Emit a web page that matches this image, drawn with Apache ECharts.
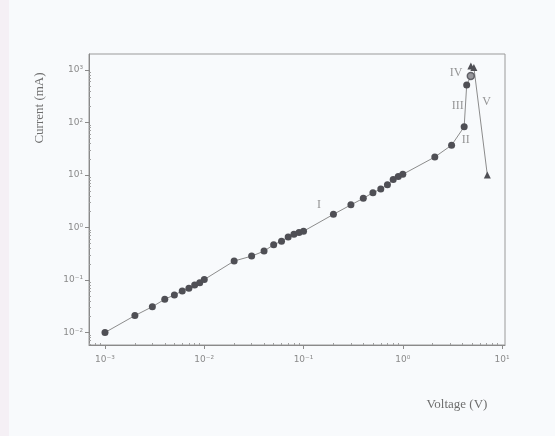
<!DOCTYPE html>
<html>
<head>
<meta charset="utf-8">
<style>
  html, body { margin: 0; padding: 0; background: #f8fafc; }
  #chart { width: 555px; height: 436px; }
</style>
<script src="https://cdn.jsdelivr.net/npm/echarts@6/dist/echarts.min.js"></script>
</head>
<body>
<div id="chart"></div>
<script>
// ---- data ----
const voltage = [0.001, 0.002, 0.003, 0.004, 0.005, 0.006, 0.007, 0.008, 0.009, 0.01,
                 0.02, 0.03, 0.04, 0.05, 0.06, 0.07, 0.08, 0.09, 0.1,
                 0.2, 0.3, 0.4, 0.5, 0.6, 0.7, 0.8, 0.9, 1.0,
                 2.1, 3.1, 4.15, 4.4];
const current = [0.01, 0.021, 0.031, 0.043, 0.052, 0.062, 0.07, 0.08, 0.089, 0.102,
                 0.23, 0.285, 0.355, 0.47, 0.55, 0.66, 0.74, 0.8, 0.85,
                 1.78, 2.7, 3.6, 4.6, 5.4, 6.5, 8.2, 9.4, 10.3,
                 22, 37, 83, 518];
const openVoltage = [4.84];
const openCurrent = [770];
const triVoltage = [4.85, 5.2, 7.1];
const triCurrent = [1190, 1120, 10];
const regionNames = ['I', 'II', 'III', 'IV', 'V'];
const regionVoltage = [0.143, 4.3, 3.58, 3.44, 7.0];
const regionCurrent = [2.7, 46, 209, 865, 249];

const xTickValues = [0.001, 0.01, 0.1, 1, 10];
const yTickValues = [0.01, 0.1, 1, 10, 100, 1000];
const supMap = {'-': '\u207B', '0': '\u2070', '1': '\u00B9', '2': '\u00B2', '3': '\u00B3'};
function powLabel(v) {
  const e = Math.round(Math.log10(v));
  return '10' + String(e).split('').map(c => supMap[c]).join('');
}
function minorValues(lo, hi) {
  const out = [];
  for (let e = lo; e < hi; e++) {
    for (let k = 2; k <= 9; k++) out.push(k * Math.pow(10, e));
  }
  return out;
}
const xMinor = minorValues(-4, 1);
const yMinor = minorValues(-3, 3);

const axisColor = '#8a8a8a';
const xMin = 0.00069, xMax = 10.7, yMin = 0.00578, yMax = 2018;

const chart = echarts.init(document.getElementById('chart'));
chart.setOption({
  backgroundColor: '#f8fafc',
  animation: false,
  grid: { left: 89, right: 50, top: 54, bottom: 91, show: true, borderColor: '#9a9a9a', borderWidth: 1, backgroundColor: 'transparent' },
  xAxis: [{
    type: 'log', min: xMin, max: xMax,
    axisLine: { lineStyle: { color: axisColor } },
    axisTick: { customValues: xTickValues, length: 4, lineStyle: { color: axisColor } },
    axisLabel: { customValues: xTickValues, formatter: powLabel, color: '#8a8a8a', fontSize: 9, fontFamily: 'DejaVu Sans', margin: 10 },
    splitLine: { show: false }, minorTick: { show: false }
  }, {
    type: 'log', min: xMin, max: xMax, position: 'bottom',
    axisLine: { show: false },
    axisTick: { customValues: xMinor, length: 2, inside: true, lineStyle: { color: '#a0a0a0' } },
    axisLabel: { show: false }, splitLine: { show: false }
  }],
  yAxis: [{
    type: 'log', min: yMin, max: yMax,
    axisLine: { show: true, lineStyle: { color: axisColor } },
    axisTick: { show: true, customValues: yTickValues, length: 4, lineStyle: { color: axisColor } },
    axisLabel: { customValues: yTickValues, formatter: powLabel, color: '#8a8a8a', fontSize: 9, fontFamily: 'DejaVu Sans', margin: 6 },
    splitLine: { show: false }, minorTick: { show: false }
  }, {
    type: 'log', min: yMin, max: yMax, position: 'left',
    axisLine: { show: false },
    axisTick: { show: true, customValues: yMinor, length: 2, inside: true, lineStyle: { color: '#a0a0a0' } },
    axisLabel: { show: false }, splitLine: { show: false }
  }],
  series: [{
    type: 'line',
    data: voltage.map((v, i) => [v, current[i]]).concat(openVoltage.map((v, i) => [v, openCurrent[i]])),
    symbol: 'circle', symbolSize: 7,
    itemStyle: { color: '#4f4f55' },
    lineStyle: { color: '#8c8c8c', width: 1 }
  }, {
    type: 'scatter',
    data: openVoltage.map((v, i) => [v, openCurrent[i]]),
    symbol: 'circle', symbolSize: 7, z: 3,
    itemStyle: { color: '#a8a8ac', borderColor: '#4f4f55', borderWidth: 1.5 }
  }, {
    type: 'line',
    data: triVoltage.map((v, i) => [v, triCurrent[i]]),
    symbol: 'triangle', symbolSize: 7,
    itemStyle: { color: '#4f4f55' },
    lineStyle: { color: '#8c8c8c', width: 1 }
  }, {
    type: 'scatter',
    data: regionNames.map((n, i) => ({ name: n, value: [regionVoltage[i], regionCurrent[i]] })),
    symbolSize: 0,
    silent: true,
    label: { show: true, position: 'inside', formatter: p => p.name, color: '#7a7a7a', fontSize: 12, fontFamily: 'Liberation Serif' }
  }],
  graphic: [{
    type: 'rect', left: 0, top: 0, shape: { width: 9, height: 436 }, style: { fill: '#f5f0f5' }, silent: true
  }, {
    type: 'text', x: 40, y: 108, rotation: Math.PI / 2,
    style: { text: 'Current (mA)', fill: '#6e6e6e', font: '13px "Liberation Serif"', align: 'center', verticalAlign: 'middle' }
  }, {
    type: 'text', x: 457, y: 405,
    style: { text: 'Voltage (V)', fill: '#6e6e6e', font: '13px "Liberation Serif"', align: 'center', verticalAlign: 'middle' }
  }]
});
</script>
</body>
</html>
